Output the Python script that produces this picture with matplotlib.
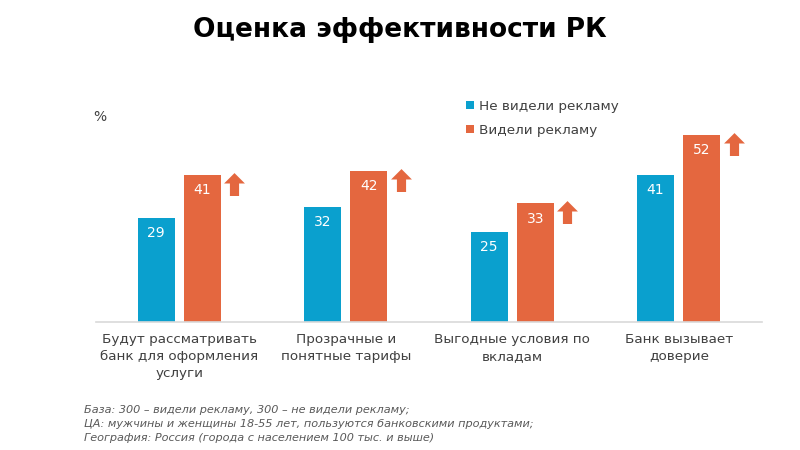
import numpy as np
import matplotlib
matplotlib.use("Agg")
from matplotlib import pyplot as plt
from matplotlib.path import Path

categories = ["Будут рассматривать\nбанк для оформления\nуслуги",
              "Прозрачные и\nпонятные тарифы",
              "Выгодные условия по\nвкладам",
              "Банк вызывает\nдоверие"]
not_seen = [29, 32, 25, 41]
seen = [41, 42, 33, 52]
series_names = ["Не видели рекламу", "Видели рекламу"]
footnote = ["База: 300 – видели рекламу, 300 – не видели рекламу;",
            "ЦА: мужчины и женщины 18-55 лет, пользуются банковскими продуктами;",
            "География: Россия (города с населением 100 тыс. и выше)"]

blue = "#0AA0CE"
orange = "#E4673F"
text_col = "#404040"

plt.rcParams['font.family'] = ['DejaVu Sans']

fig = plt.figure(figsize=(8, 4.5), dpi=100)
ax = fig.add_axes([0.12, 0.2844, 0.8325, 0.5156])

x = np.arange(len(categories))
w = 0.223
off = 0.139
b1 = ax.bar(x - off, not_seen, w, color=blue, label=series_names[0])
b2 = ax.bar(x + off, seen, w, color=orange, label=series_names[1])

for bars, vals in ((b1, not_seen), (b2, seen)):
    for r, v in zip(bars, vals):
        ax.text(r.get_x() + r.get_width() / 2, v - 4.2, str(v), ha="center", va="center",
                color="white", fontsize=10)

# up arrows next to the orange bars
arrow = Path([(-0.5, 0.0), (0.0, 0.5), (0.5, 0.0), (0.22, 0.0), (0.22, -0.6),
              (-0.22, -0.6), (-0.22, 0.0), (-0.5, 0.0)],
             [Path.MOVETO] + [Path.LINETO] * 6 + [Path.CLOSEPOLY])
ax.plot(x + 0.33, np.array(seen) - 2.2, linestyle="none", marker=arrow,
        markersize=18, color=orange, markeredgewidth=0)

ax.set_xlim(-0.5, 3.5)
ax.set_ylim(0, 64.6)
ax.set_xticks(x)
ax.set_xticklabels(categories, fontsize=9.7, color=text_col, linespacing=1.4)
ax.tick_params(axis="x", length=0, pad=8)
ax.set_yticks([])
for s in ("top", "right", "left"):
    ax.spines[s].set_visible(False)
ax.spines["bottom"].set_color("#D9D9D9")
ax.spines["bottom"].set_linewidth(1.2)

leg = ax.legend(loc="upper left", bbox_to_anchor=(0.537, 1.01), frameon=False,
                fontsize=9.7, handlelength=0.6, handleheight=0.6, handletextpad=0.4,
                labelspacing=0.8, labelcolor=text_col)

fig.text(0.5, 0.918, "Оценка эффективности РК", ha="center", va="baseline",
         fontsize=19, fontweight="bold", color="black")
fig.text(0.116, 0.74, "%", fontsize=10, color=text_col, va="center")

for i, line in enumerate(footnote):
    fig.text(0.105, 0.089 - i * 0.031, line, fontsize=8.1, style="italic", color="#595959",
             va="center")

fig.savefig("out.png", dpi=100)
